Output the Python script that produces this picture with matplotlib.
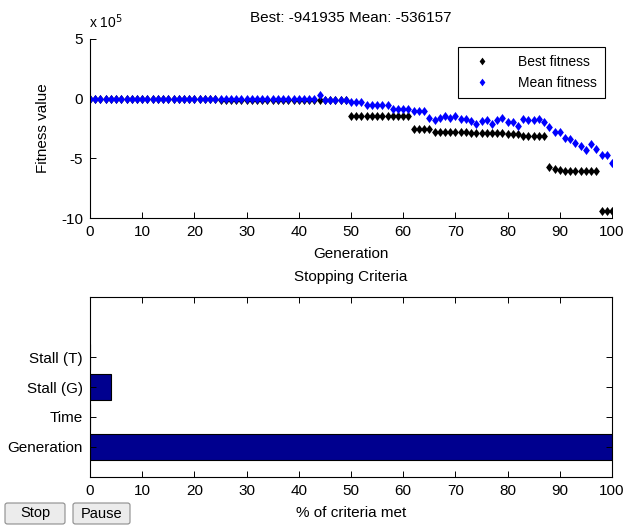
import matplotlib
matplotlib.use("Agg")
import matplotlib.pyplot as plt
from matplotlib.patches import FancyBboxPatch
from matplotlib.ticker import FuncFormatter

plt.rcParams['font.family'] = ['Liberation Sans', 'DejaVu Sans']
plt.rcParams['font.size'] = 11

# --- data -------------------------------------------------------------
generations = list(range(101))

best_fitness = (
    [-1000] * 25 + [-14000] * 25 + [-142000] * 12 + [-255000] * 4
    + [-280000] * 7 + [-285000] * 7 + [-295000] * 3 + [-310000] * 5
    + [-572000, -588000, -598000] + [-607000] * 7 + [-941935] * 3
)

mean_fitness = (
    [0] * 25 + [-2000] * 19 + [28000]
    + [-8000, -8000, -8000, -8000, -8000]
    + [-28000, -28000, -28000]
    + [-50000, -50000, -52000, -52000, -52000]
    + [-84000, -87000, -87000, -87000]
    + [-105000, -105000, -105000]
    + [-159000, -182000, -159000, -142000, -159000, -142000, -170000, -170000,
       -190000, -215000, -187000, -182000, -215000, -176000, -165000, -193000,
       -193000, -232000, -170000, -182000, -182000, -170000, -193000, -238000,
       -282000, -277000, -332000, -338000, -372000, -400000, -433000, -380000,
       -422000, -470000, -470000, -536157]
)

criteria = ['Generation', 'Time', 'Stall (G)', 'Stall (T)']
criteria_met = [100, 0, 4, 0]

# --- figure -----------------------------------------------------------
W, H = 626, 526
fig = plt.figure(figsize=(W / 100, H / 100), dpi=100)


def fx(px):
    return px / W


def fy(py):
    return 1 - py / H


tick_kw = dict(direction='in', length=4.3, width=0.7, labelsize=11, pad=5)
diamond = [(0, 1), (0.75, 0), (0, -1), (-0.75, 0), (0, 1)]

# top: fitness
ax1 = fig.add_axes([fx(90), fy(218), fx(522), 179 / H])
ax1.plot(generations, best_fitness, ls='none', marker=diamond, color='black',
         ms=6.5, mew=0, label='Best fitness')
ax1.plot(generations, mean_fitness, ls='none', marker=diamond, color='blue',
         ms=6.5, mew=0, label='Mean fitness')
ax1.set_xlim(0, 100)
ax1.set_ylim(-1e6, 5e5)
ax1.set_xticks(range(0, 101, 10))
ax1.set_yticks([-1e6, -5e5, 0, 5e5])
ax1.yaxis.set_major_formatter(FuncFormatter(lambda v, p: f"{v / 1e5:g}"))
for s in ['top', 'right']:
    ax1.spines[s].set_visible(False)
for s in ['left', 'bottom']:
    ax1.spines[s].set_linewidth(0.8)
ax1.tick_params(**tick_kw)
ax1.set_xlabel('Generation', labelpad=6)
ax1.set_ylabel('Fitness value', labelpad=8)
leg = ax1.legend(loc='upper right', bbox_to_anchor=(fx(605), fy(47)),
                 bbox_transform=fig.transFigure, borderaxespad=0,
                 fancybox=False, edgecolor='black', framealpha=1,
                 handlelength=2.4, handletextpad=1.4, borderpad=0.55,
                 labelspacing=0.55, fontsize=10, markerscale=0.85)
leg.get_frame().set_linewidth(0.8)
fig.text(fx(351), fy(18), 'Best: -941935 Mean: -536157', ha='center', va='center')
fig.text(fx(89), fy(22), r'x 10$^5$', ha='left', va='center', fontsize=10)

# bottom: stopping criteria
ax2 = fig.add_axes([fx(90), fy(477), fx(522), 180 / H])
ax2.barh(range(1, len(criteria) + 1), criteria_met, height=0.85,
         color='#00008f', edgecolor='black', linewidth=0.8)
ax2.set_xlim(0, 100)
ax2.set_ylim(0, 6)
ax2.set_xticks(range(0, 101, 10))
ax2.set_yticks(range(1, len(criteria) + 1))
ax2.set_yticklabels(criteria)
for s in ax2.spines.values():
    s.set_linewidth(0.8)
ax2.tick_params(top=True, right=True, **tick_kw)
ax2.set_xlabel('% of criteria met', labelpad=6)
fig.text(fx(351), fy(277), 'Stopping Criteria', ha='center', va='center')

# Stop / Pause buttons
for x0, x1, label in [(5, 65, 'Stop'), (73, 130, 'Pause')]:
    b = FancyBboxPatch((fx(x0), fy(524)), fx(x1 - x0), (524 - 503) / H,
                       boxstyle='round,pad=0,rounding_size=0.004',
                       transform=fig.transFigure, facecolor='#ececec',
                       edgecolor='#8c8c8c', linewidth=0.8)
    fig.patches.append(b)
    fig.text(fx((x0 + x1) / 2), fy(513.5), label, ha='center', va='center',
             fontsize=10.5)

fig.savefig('out.png', dpi=100, facecolor='white')
